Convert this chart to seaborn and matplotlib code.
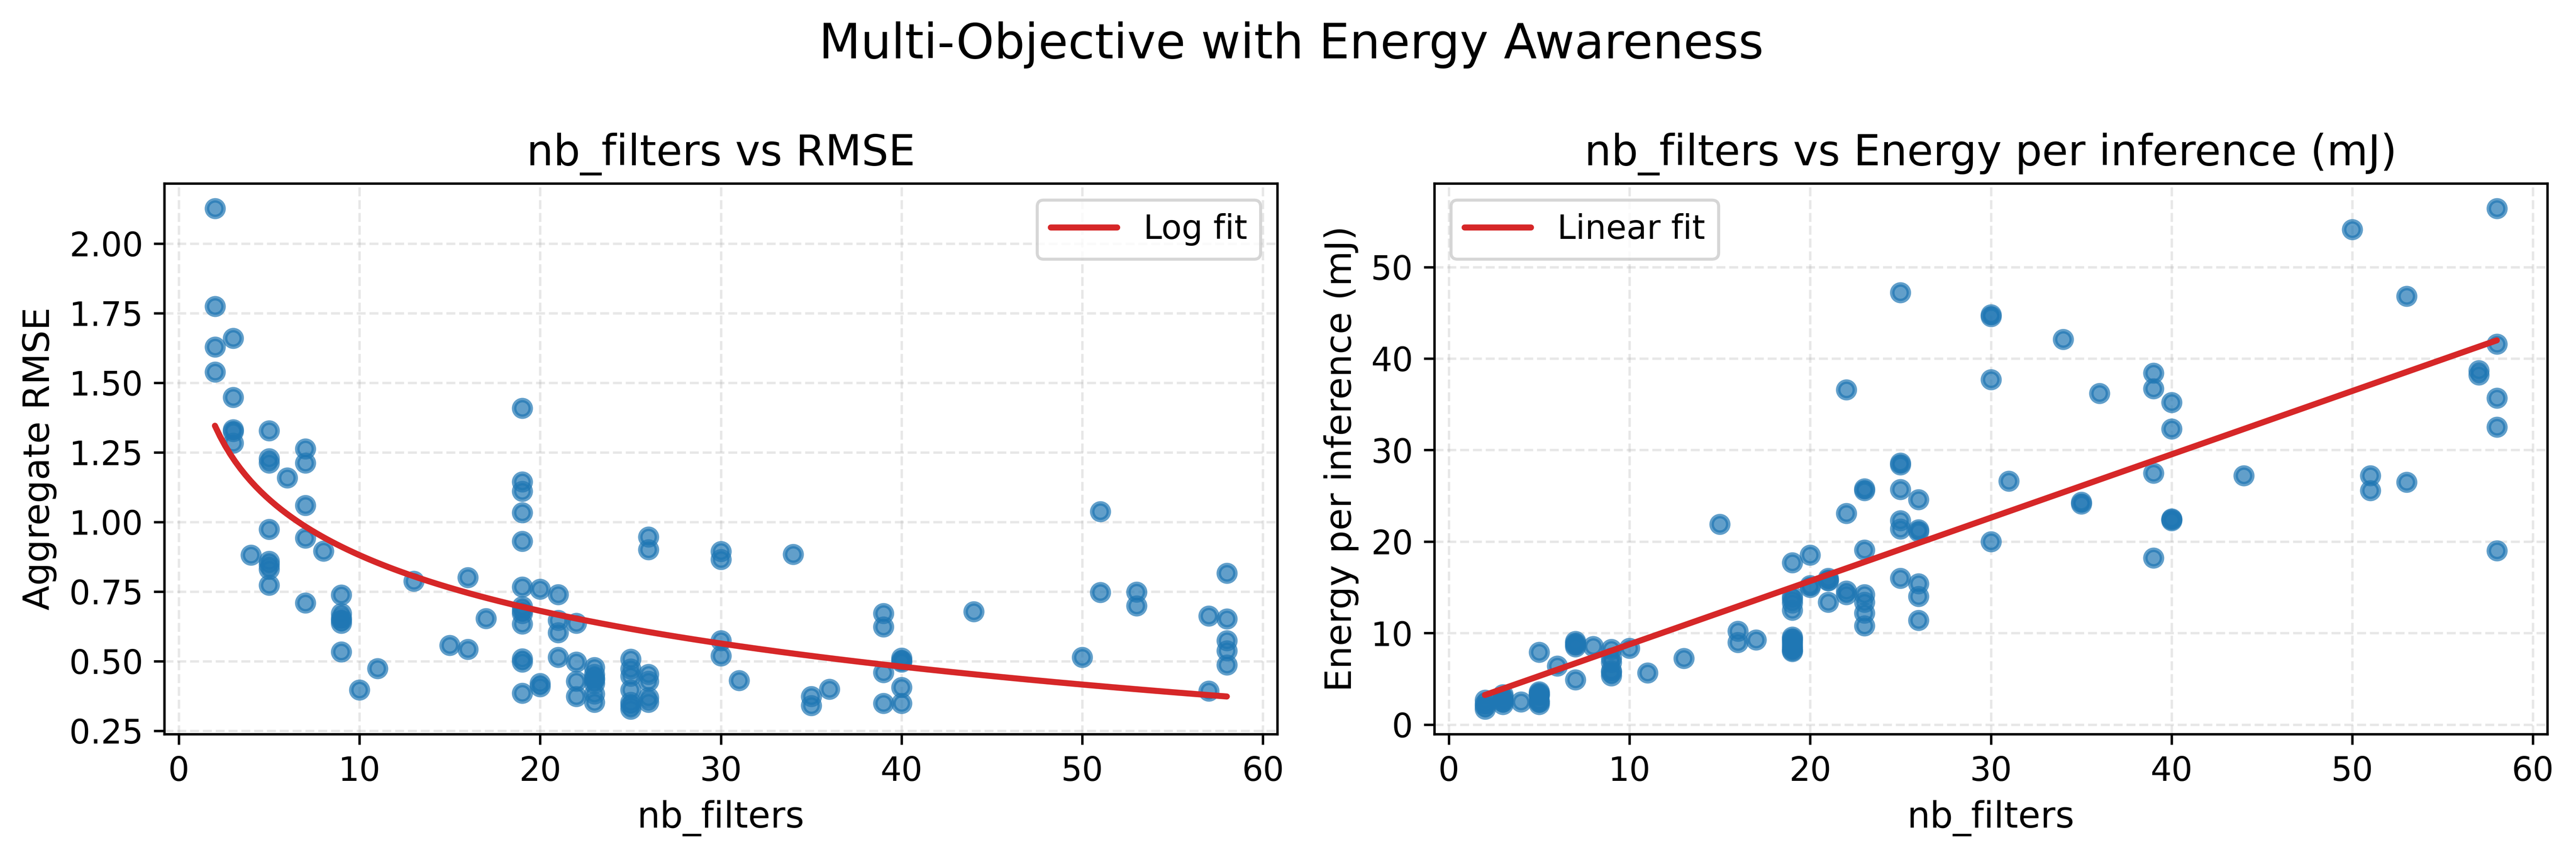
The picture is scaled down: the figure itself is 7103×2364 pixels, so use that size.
import numpy as np
import pandas as pd
import matplotlib
matplotlib.use("Agg")
import matplotlib.pyplot as plt
import seaborn as sns

# ---------------- data ----------------
nb_filters = (
    [2] * 4 + [3] * 5 + [4] + [5] * 8 + [6] + [7] * 5 + [8] + [9] * 6 + [10] + [11] + [13] + [15]
    + [16] * 2 + [17] + [19] * 13 + [20] * 3 + [21] * 4 + [22] * 4 + [23] * 7 + [25] * 7 + [26] * 6
    + [30] * 4 + [31] + [34] + [35] * 2 + [36] + [39] * 4 + [40] * 5 + [44] + [50] + [51] * 2
    + [53] * 2 + [57] * 2 + [58] * 5
)

rmse = [
    2.126, 1.774, 1.629, 1.539,                                  # 2
    1.660, 1.448, 1.332, 1.325, 1.283,                           # 3
    0.881,                                                       # 4
    1.328, 1.227, 1.212, 0.974, 0.859, 0.846, 0.830, 0.773,      # 5
    1.159,                                                       # 6
    1.263, 1.212, 1.059, 0.943, 0.709,                           # 7
    0.896,                                                       # 8
    0.738, 0.672, 0.655, 0.647, 0.637, 0.534,                    # 9
    0.397,                                                       # 10
    0.474,                                                       # 11
    0.787,                                                       # 13
    0.557,                                                       # 15
    0.800, 0.543,                                                # 16
    0.653,                                                       # 17
    1.408, 1.144, 1.111, 1.034, 0.931, 0.767, 0.697, 0.682, 0.672,
    0.634, 0.509, 0.497, 0.385,                                  # 19
    0.759, 0.420, 0.409,                                         # 20
    0.740, 0.647, 0.603, 0.514,                                  # 21
    0.637, 0.497, 0.428, 0.374,                                  # 22
    0.478, 0.453, 0.440, 0.434, 0.420, 0.382, 0.353,             # 23
    0.507, 0.472, 0.447, 0.397, 0.353, 0.341, 0.328,             # 25
    0.946, 0.901, 0.453, 0.428, 0.369, 0.353,                    # 26
    0.894, 0.865, 0.574, 0.519,                                  # 30
    0.431,                                                       # 31
    0.884,                                                       # 34
    0.374, 0.341,                                                # 35
    0.399,                                                       # 36
    0.672, 0.624, 0.459, 0.349,                                  # 39
    0.512, 0.503, 0.497, 0.406, 0.349,                           # 40
    0.678,                                                       # 44
    0.514,                                                       # 50
    1.037, 0.747,                                                # 51
    0.749, 0.699,                                                # 53
    0.662, 0.393,                                                # 57
    0.816, 0.652, 0.574, 0.538, 0.487,                           # 58
]

energy_mj = [
    2.7, 2.3, 2.0, 1.7,                                          # 2
    3.3, 3.0, 2.7, 2.5, 2.2,                                     # 3
    2.5,                                                         # 4
    7.9, 3.6, 3.45, 3.3, 3.2, 2.6, 2.45, 2.2,                    # 5
    6.4,                                                         # 6
    9.1, 8.9, 8.7, 8.5, 4.9,                                     # 7
    8.55,                                                        # 8
    8.25, 7.3, 6.8, 5.9, 5.7, 5.35,                              # 9
    8.35,                                                        # 10
    5.65,                                                        # 11
    7.25,                                                        # 13
    21.9,                                                        # 15
    10.2, 9.0,                                                   # 16
    9.25,                                                        # 17
    17.7, 14.0, 13.7, 13.3, 12.5, 9.6, 9.4, 9.2, 8.9,
    8.6, 8.3, 8.1, 8.0,                                          # 19
    18.55, 15.2, 15.0,                                           # 20
    16.0, 15.8, 15.7, 13.4,                                      # 21
    36.6, 23.1, 14.6, 14.2,                                      # 22
    25.8, 25.6, 19.1, 14.2, 13.4, 12.2, 10.8,                    # 23
    47.2, 28.6, 28.4, 25.7, 22.3, 21.4, 16.0,                    # 25
    24.6, 21.3, 21.1, 15.4, 14.0, 11.4,                          # 26
    44.8, 44.6, 37.7, 20.0,                                      # 30
    26.6,                                                        # 31
    42.1,                                                        # 34
    24.3, 24.1,                                                  # 35
    36.2,                                                        # 36
    38.4, 36.7, 27.5, 18.2,                                      # 39
    35.2, 32.3, 22.5, 22.4, 22.3,                                # 40
    27.2,                                                        # 44
    54.1,                                                        # 50
    27.2, 25.6,                                                  # 51
    46.8, 26.5,                                                  # 53
    38.7, 38.2,                                                  # 57
    56.4, 41.6, 35.7, 32.5, 19.0,                                # 58
]

df = pd.DataFrame({"nb_filters": nb_filters, "rmse": rmse, "energy": energy_mj})

# ---------------- style ----------------
sns.set_style("white")
plt.rcParams["font.family"] = ["DejaVu Sans"]
plt.rcParams["font.size"] = 11
plt.rcParams["text.color"] = "black"
plt.rcParams["axes.edgecolor"] = "black"
plt.rcParams["axes.labelcolor"] = "black"
plt.rcParams["axes.titlecolor"] = "black"
plt.rcParams["xtick.bottom"] = True
plt.rcParams["ytick.left"] = True
plt.rcParams["xtick.color"] = "black"
plt.rcParams["ytick.color"] = "black"
plt.rcParams["xtick.labelcolor"] = "black"
plt.rcParams["ytick.labelcolor"] = "black"

BLUE = "#1f77b4"
RED = "#d62728"

fig, axes = plt.subplots(1, 2, figsize=(7103 / 600, 2364 / 600), dpi=600)
fig.subplots_adjust(left=0.0638, right=0.9889, bottom=0.1434, top=0.786, wspace=0.141)

xs = np.linspace(df["nb_filters"].min(), df["nb_filters"].max(), 200)

# left: RMSE with log fit
ax = axes[0]
sns.scatterplot(data=df, x="nb_filters", y="rmse", ax=ax, s=30, alpha=0.7,
                color=BLUE, edgecolor=BLUE, linewidth=1.5, zorder=2)
b, a = np.polyfit(np.log(df["nb_filters"]), df["rmse"], 1)
sns.lineplot(x=xs, y=a + b * np.log(xs), ax=ax, color=RED, linewidth=2, label="Log fit", zorder=3)
ax.set_title("nb_filters vs RMSE", fontsize=14, color="black")
ax.set_xlabel("nb_filters", fontsize=12)
ax.set_ylabel("Aggregate RMSE", fontsize=12)
leg = ax.legend(loc="upper right", fontsize=11)

# right: energy with linear fit
ax = axes[1]
sns.scatterplot(data=df, x="nb_filters", y="energy", ax=ax, s=30, alpha=0.7,
                color=BLUE, edgecolor=BLUE, linewidth=1.5, zorder=2)
m, c = np.polyfit(df["nb_filters"], df["energy"], 1)
sns.lineplot(x=xs, y=m * xs + c, ax=ax, color=RED, linewidth=2, label="Linear fit", zorder=3)
ax.set_title("nb_filters vs Energy per inference (mJ)", fontsize=14, color="black")
ax.set_xlabel("nb_filters", fontsize=12)
ax.set_ylabel("Energy per inference (mJ)", fontsize=12)
ax.legend(loc="upper left", fontsize=11)

for ax in axes:
    ax.grid(True, linestyle="--", alpha=0.3, color="#b0b0b0", linewidth=0.8)
    ax.set_axisbelow(True)
    ax.tick_params(labelsize=11, length=3.5, width=0.8, colors="black")
    for sp in ax.spines.values():
        sp.set_linewidth(0.8)
        sp.set_color("black")
    for t in ax.get_legend().get_texts():
        t.set_color("black")

fig.suptitle("Multi-Objective with Energy Awareness", fontsize=16, x=0.5013, y=0.9317,
             va="baseline", color="black")

fig.savefig("out.png", dpi=600)
